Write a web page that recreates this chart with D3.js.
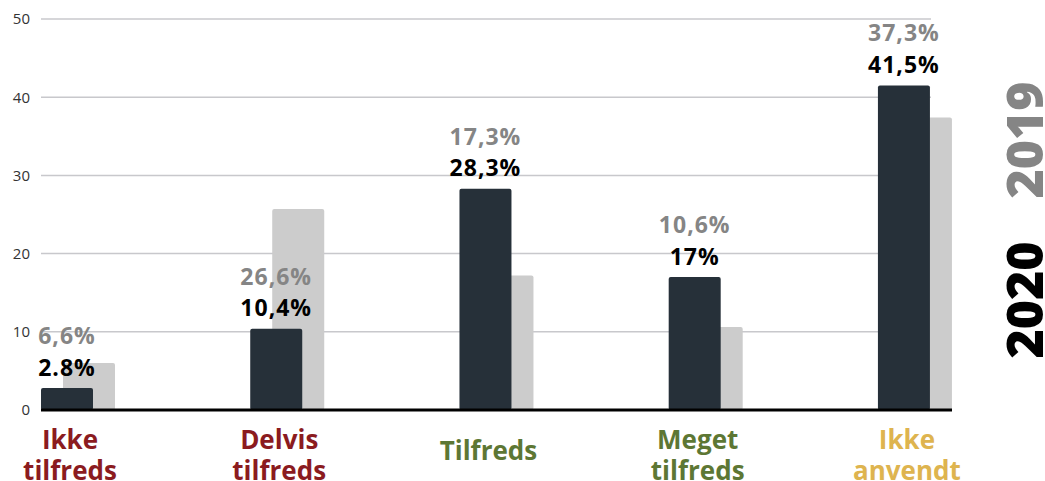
<!DOCTYPE html>
<html>
<head>
<meta charset="utf-8">
<script src="https://cdn.jsdelivr.net/npm/d3@7"></script>
<style>
    body { margin: 0; background: #fff; }
    svg text { font-family: "Open Sans", "Noto Sans", sans-serif; }
</style>
</head>
<body>
<div id="chart"></div>
<script>
// categories and values
let categories = ["Ikke tilfreds", "Delvis tilfreds", "Tilfreds", "Meget tilfreds", "Ikke anvendt"];
let catLines = [["Ikke", "tilfreds"], ["Delvis", "tilfreds"], ["Tilfreds"], ["Meget", "tilfreds"], ["Ikke", "anvendt"]];
let catColors = ["#8b1b1f", "#8b1b1f", "#5d7734", "#5d7734", "#deb44f"];
let values2020 = [2.8, 10.4, 28.3, 17, 41.5];
let values2019 = [6.0, 25.7, 17.2, 10.6, 37.4];
let labels2020 = ["2.8%", "10,4%", "28,3%", "17%", "41,5%"];
let labels2019 = ["6,6%", "26,6%", "17,3%", "10,6%", "37,3%"];
let yTicks = [0, 10, 20, 30, 40, 50];

(function () {
    let width = 1045, height = 481;

    let svg = d3.select("#chart")
        .append("svg")
        .attr("width", width)
        .attr("height", height);

    let x = d3.scaleBand()
        .domain(categories)
        .range([41, 952])
        .paddingInner(0.646)
        .paddingOuter(0);

    let y = d3.scaleLinear()
        .domain([0, 50])
        .range([410, 19]);

    let barW = 52, offset = 22;

    // gridlines
    svg.append("g")
        .selectAll("line")
        .data(yTicks.filter(d => d > 0))
        .join("line")
        .attr("x1", 41)
        .attr("x2", 931)
        .attr("y1", d => y(d))
        .attr("y2", d => y(d))
        .attr("stroke", "#c8c8cc")
        .attr("stroke-width", 1.5);

    // y axis labels
    let yAxis = svg.append("g")
        .attr("transform", "translate(30,0)")
        .call(d3.axisLeft(y).tickValues(yTicks).tickSize(0).tickPadding(0));
    yAxis.select(".domain").remove();
    yAxis.selectAll("text")
        .style("font-size", "15px")
        .style("fill", "#333")
        .style("font-family", "'Open Sans', sans-serif");

    // 2019 bars (behind)
    svg.append("g")
        .selectAll("rect")
        .data(categories)
        .join("rect")
        .attr("x", d => x(d) + offset)
        .attr("y", (d, i) => y(values2019[i]))
        .attr("width", barW)
        .attr("height", (d, i) => y(0) - y(values2019[i]))
        .attr("rx", 2)
        .attr("fill", "#cccccc");

    // 2020 bars
    svg.append("g")
        .selectAll("rect")
        .data(categories)
        .join("rect")
        .attr("x", d => x(d))
        .attr("y", (d, i) => y(values2020[i]))
        .attr("width", barW)
        .attr("height", (d, i) => y(0) - y(values2020[i]))
        .attr("rx", 2)
        .attr("fill", "#263039");

    // baseline
    svg.append("line")
        .attr("x1", 41)
        .attr("x2", 952)
        .attr("y1", y(0))
        .attr("y2", y(0))
        .attr("stroke", "#000")
        .attr("stroke-width", 3);

    // value labels
    svg.append("g")
        .selectAll("text")
        .data(categories)
        .join("text")
        .attr("x", d => x(d) + barW / 2)
        .attr("y", (d, i) => y(values2020[i]) - 12.5)
        .attr("text-anchor", "middle")
        .style("font-size", "23px")
        .style("font-weight", 700)
        .style("letter-spacing", "1px")
        .style("fill", "#000")
        .text((d, i) => labels2020[i]);

    svg.append("g")
        .selectAll("text")
        .data(categories)
        .join("text")
        .attr("x", d => x(d) + barW / 2)
        .attr("y", (d, i) => y(values2020[i]) - 44)
        .attr("text-anchor", "middle")
        .style("font-size", "23px")
        .style("font-weight", 700)
        .style("letter-spacing", "1px")
        .style("fill", "#858585")
        .text((d, i) => labels2019[i]);

    // category labels
    let cat = svg.append("g")
        .selectAll("text")
        .data(categories)
        .join("text")
        .attr("y", (d, i) => catLines[i].length == 1 ? 460 : 449)
        .attr("text-anchor", "middle")
        .style("font-size", "26px")
        .style("font-weight", 700)
        .style("fill", (d, i) => catColors[i]);

    cat.each(function (d, i) {
        let t = d3.select(this);
        catLines[i].forEach(function (line, j) {
            t.append("tspan")
                .attr("x", x(d) + barW / 2 + 3)
                .attr("dy", j == 0 ? 0 : 31)
                .text(line);
        });
    });

    // legend (rotated years)
    svg.append("text")
        .attr("transform", "translate(1043,300) rotate(-90)")
        .attr("text-anchor", "middle")
        .style("font-size", "50px")
        .style("font-weight", 800)
        .style("fill", "#000")
        .text("2020");

    svg.append("text")
        .attr("transform", "translate(1043,140) rotate(-90)")
        .attr("text-anchor", "middle")
        .style("font-size", "50px")
        .style("font-weight", 800)
        .style("fill", "#858585")
        .text("2019");
})();
</script>
</body>
</html>
